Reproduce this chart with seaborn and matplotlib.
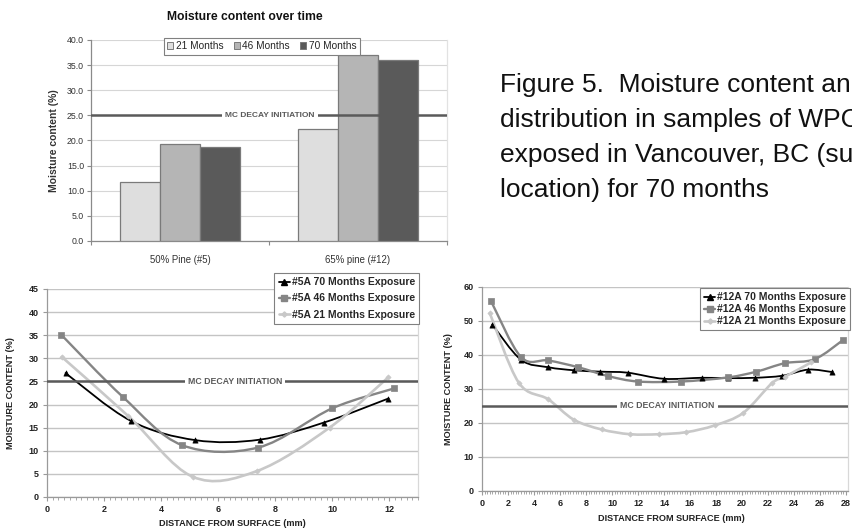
import numpy as np
import pandas as pd
import matplotlib
matplotlib.use("Agg")
import matplotlib.pyplot as plt
import seaborn as sns
from matplotlib.path import Path
from matplotlib.patches import PathPatch, Patch
from matplotlib.lines import Line2D
from matplotlib.ticker import MultipleLocator, FixedLocator, FormatStrFormatter

# ---------------- data ----------------
categories = ["50% Pine (#5)", "65% pine (#12)"]
periods = ["21 Months", "46 Months", "70 Months"]
mc_21 = [11.8, 22.3]
mc_46 = [19.3, 37.0]
mc_70 = [18.7, 36.0]
decay_mc = 25.0

# sample #5A: moisture profile through thickness
p5_70_x = [0.65, 2.93, 5.2, 7.45, 9.7, 11.96]
p5_70_y = [26.8, 16.5, 12.3, 12.4, 16.1, 21.3]
p5_46_x = [0.5, 2.65, 4.74, 7.4, 10.0, 12.17]
p5_46_y = [35.1, 21.7, 11.2, 10.7, 19.2, 23.5]
p5_21_x = [0.52, 2.85, 5.1, 7.35, 9.9, 11.96]
p5_21_y = [30.3, 17.5, 4.4, 5.6, 15.0, 25.9]

# sample #12A: moisture profile through thickness
p12_70_x = [0.8, 3.0, 5.1, 7.1, 9.1, 11.2, 14.0, 16.9, 18.9, 21.0, 23.1, 25.1, 26.9]
p12_70_y = [48.9, 38.6, 36.4, 35.5, 35.1, 34.8, 33.0, 33.3, 33.2, 33.3, 33.9, 35.7, 35.0]
p12_46_x = [0.7, 3.0, 5.1, 7.4, 9.7, 12.0, 15.3, 18.9, 21.1, 23.3, 25.6, 27.8]
p12_46_y = [55.8, 39.4, 38.4, 36.4, 33.8, 32.2, 32.2, 33.4, 35.1, 37.6, 38.8, 44.5]
p12_21_x = [0.6, 2.82, 5.08, 7.05, 9.2, 11.4, 13.6, 15.7, 17.9, 20.1, 22.3, 23.3, 25.3]
p12_21_y = [52.3, 31.9, 27.0, 21.0, 18.1, 16.7, 16.7, 17.3, 19.3, 23.0, 31.7, 33.6, 37.8]

caption_lines = [
    "Figure 5.  Moisture content an",
    "distribution in samples of WPC",
    "exposed in Vancouver, BC (su",
    "location) for 70 months",
]

# ---------------- style ----------------
sns.set_theme(style="white")
plt.rcParams["font.family"] = ["Liberation Sans", "DejaVu Sans"]
plt.rcParams["axes.linewidth"] = 0.9

bar_colors = ["#DEDEDE", "#B5B5B5", "#5A5A5A"]
line_black = "#000000"
line_mid = "#858585"
line_light = "#C8C8C8"
decay_color = "#5A5A5A"
grid_color = "#C4C4C4"

W, H = 853, 528
fig = plt.figure(figsize=(W / 100, H / 100), dpi=100)


def px_axes(left, top, right, bottom):
    return fig.add_axes([left / W, 1 - bottom / H, (right - left) / W, (bottom - top) / H])


def smooth_path(x, y):
    """Cubic Bezier through the points (Catmull-Rom style smoothing)."""
    p = np.column_stack([x, y]).astype(float)
    n = len(p)
    verts = [p[0]]
    codes = [Path.MOVETO]
    for i in range(n - 1):
        p0 = p[i - 1] if i > 0 else p[i]
        p1, p2 = p[i], p[i + 1]
        p3 = p[i + 2] if i + 2 < n else p[i + 1]
        verts += [p1 + (p2 - p0) / 6.0, p2 - (p3 - p1) / 6.0, p2]
        codes += [Path.CURVE4] * 3
    return Path(verts, codes)


def decay_line(ax, fontsize, xfrac=0.505):
    ax.axhline(decay_mc, color=decay_color, lw=1.8, zorder=4)
    ax.text(xfrac, decay_mc, "MC DECAY INITIATION", transform=ax.get_yaxis_transform(),
            ha="center", va="center", fontsize=fontsize, fontweight="bold", color=decay_color,
            zorder=5, bbox=dict(boxstyle="square,pad=0.35", fc="white", ec="none"))


# ---------------- top: bar chart ----------------
ax_bar = px_axes(91, 40, 447, 241)
df_bar = pd.DataFrame({
    "Sample": categories * 3,
    "Exposure": [p for p in periods for _ in categories],
    "MC": mc_21 + mc_46 + mc_70,
})
sns.barplot(data=df_bar, x="Sample", y="MC", hue="Exposure", order=categories,
            hue_order=periods, palette=bar_colors, saturation=1, width=0.67, gap=0,
            edgecolor="#7A7A7A", linewidth=0.9, legend=False, ax=ax_bar, zorder=3)
ax_bar.set_xlim(-0.5, 1.5)
ax_bar.set_ylim(0, 40)
ax_bar.yaxis.set_major_locator(MultipleLocator(5))
ax_bar.yaxis.set_major_formatter(FormatStrFormatter("%.1f"))
ax_bar.yaxis.grid(True, color="#D6D6D6", lw=0.8)
ax_bar.set_axisbelow(True)
ax_bar.spines["top"].set_visible(False)
ax_bar.spines["right"].set_color("#E2E2E2")
ax_bar.spines["left"].set_color("#8A8A8A")
ax_bar.spines["bottom"].set_color("#8A8A8A")
ax_bar.tick_params(axis="y", which="major", left=True, length=3, width=0.8, color="#8A8A8A",
                   labelsize=6.3, pad=2, labelcolor="#333333")
ax_bar.tick_params(axis="x", which="major", bottom=False, labelsize=6.9, pad=4, labelcolor="#333333")
ax_bar.xaxis.set_minor_locator(FixedLocator([-0.5, 0.5, 1.5]))
ax_bar.tick_params(axis="x", which="minor", bottom=True, length=3, width=0.8, color="#8A8A8A")
ax_bar.set_xlabel("")
ax_bar.set_ylabel("Moisture content (%)", fontsize=7.5, fontweight="bold", color="#333333")
ax_bar.yaxis.set_label_coords(-0.09, 0.5)
fig.text(245 / W, 1 - 17 / H, "Moisture content over time", fontsize=8.7, fontweight="bold",
         ha="center", va="center", color="#111111")
decay_line(ax_bar, 6.0, 0.503)
bar_handles = [Patch(facecolor=c, edgecolor="#7A7A7A", linewidth=0.7) for c in bar_colors]
leg = ax_bar.legend(bar_handles, periods, ncol=3, loc="upper center", bbox_to_anchor=(0.48, 1.012),
                    fontsize=7.3, frameon=True, fancybox=False, framealpha=1, edgecolor="#808080",
                    handlelength=0.6, handleheight=0.6, handletextpad=0.25, columnspacing=1.0,
                    borderpad=0.35, borderaxespad=0)
leg.get_frame().set_linewidth(0.8)
leg.set_zorder(6)


def profile_axes(ax, xmax, ymax, ystep, series, leg_anchor, leg_spacing, xlabel_x, xlabel_y):
    for (x, y, color, lw, marker, ms, label) in series:
        ax.add_patch(PathPatch(smooth_path(x, y), fill=False, edgecolor=color, lw=lw,
                               zorder=3, capstyle="round", joinstyle="round"))
        sns.scatterplot(x=x, y=y, marker=marker, s=ms, color=color, edgecolor=color,
                        linewidth=0.5, zorder=4, ax=ax, legend=False)
    ax.set_xlim(0, xmax)
    ax.set_ylim(0, ymax)
    ax.xaxis.set_major_locator(MultipleLocator(2))
    ax.xaxis.set_minor_locator(MultipleLocator(0.2))
    ax.yaxis.set_major_locator(MultipleLocator(ystep))
    ax.yaxis.grid(True, color=grid_color, lw=1.0)
    ax.set_axisbelow(True)
    ax.spines["top"].set_visible(False)
    ax.spines["right"].set_color("#D8D8D8")
    ax.spines["left"].set_color("#9A9A9A")
    ax.spines["bottom"].set_color("#9A9A9A")
    ax.tick_params(axis="both", which="major", length=3, width=0.8, color="#9A9A9A",
                   labelsize=6.5, pad=3, bottom=True, left=True)
    ax.tick_params(axis="x", which="minor", length=1.8, width=0.6, color="#9A9A9A", bottom=True)
    for lab in ax.get_xticklabels() + ax.get_yticklabels():
        lab.set_fontweight("bold")
        lab.set_color("#222222")
    ax.set_xlabel("DISTANCE FROM SURFACE (mm)", fontsize=6.6, fontweight="bold", color="#222222")
    ax.set_ylabel("MOISTURE CONTENT (%)", fontsize=6.6, fontweight="bold", color="#222222")
    ax.xaxis.set_label_coords(xlabel_x, xlabel_y)
    decay_line(ax, 6.3, 0.507)
    handles = [Line2D([], [], color=c, lw=lw, marker=m, markersize=np.sqrt(ms), markeredgecolor=c)
               for (_, _, c, lw, m, ms, _) in series]
    labels = [s[-1] for s in series]
    lg = ax.legend(handles, labels, loc="upper right", bbox_to_anchor=leg_anchor,
                   bbox_transform=fig.transFigure, prop=dict(weight="bold", size=7.5),
                   frameon=True, fancybox=False, framealpha=1, edgecolor="#808080",
                   handlelength=1.1, handletextpad=0.15, labelspacing=leg_spacing,
                   borderpad=0.4, borderaxespad=0)
    lg.get_frame().set_linewidth(0.8)
    lg.set_zorder(6)


# ---------------- bottom left: #5A ----------------
ax5 = px_axes(47, 289, 418, 497)
profile_axes(ax5, 13, 45, 5, [
    (p5_70_x, p5_70_y, line_black, 1.3, "^", 14, "#5A 70 Months Exposure"),
    (p5_46_x, p5_46_y, line_mid, 1.7, "s", 14, "#5A 46 Months Exposure"),
    (p5_21_x, p5_21_y, line_light, 1.9, "D", 7, "#5A 21 Months Exposure"),
], (419 / W, 1 - 273 / H), 0.6, 0.5, -0.105)
ax5.yaxis.set_label_coords(-0.086, 0.5)

# ---------------- bottom right: #12A ----------------
ax12 = px_axes(482, 287, 848, 491)
profile_axes(ax12, 28.15, 60, 10, [
    (p12_70_x, p12_70_y, line_black, 1.3, "^", 14, "#12A 70 Months Exposure"),
    (p12_46_x, p12_46_y, line_mid, 1.7, "s", 14, "#12A 46 Months Exposure"),
    (p12_21_x, p12_21_y, line_light, 1.9, "D", 7, "#12A 21 Months Exposure"),
], (850 / W, 1 - 288 / H), 0.2, 0.517, -0.115)
ax12.yaxis.set_label_coords(-0.078, 0.5)

# ---------------- caption ----------------
for i, line in enumerate(caption_lines):
    fig.text(500 / W, 1 - (91.7 + 35 * i) / H, line, fontsize=19, ha="left", va="baseline",
             color="#111111")

fig.savefig("out.png", dpi=100)
